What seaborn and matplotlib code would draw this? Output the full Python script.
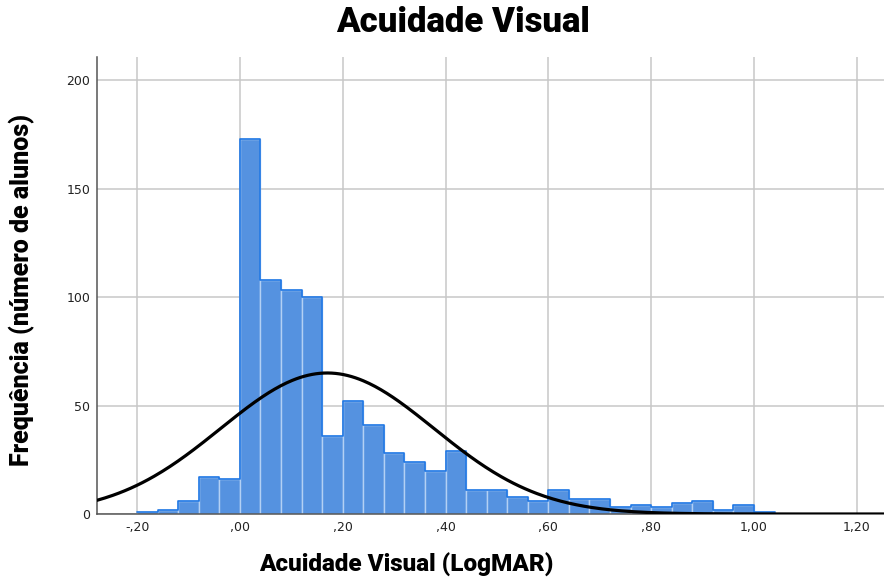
import numpy as np
import pandas as pd
import matplotlib
matplotlib.use("Agg")
import matplotlib.pyplot as plt
import seaborn as sns

# ---- data ----
bin_start = -0.20
bin_width = 0.04
counts = [1, 2, 6, 17, 16, 173, 108, 103, 100, 36, 52, 41, 28, 24, 20, 29,
          11, 11, 8, 6, 11, 7, 7, 3, 4, 3, 5, 6, 2, 4, 1]
fit_mean = 0.17
fit_sd = 0.2075
x_ticks = [-0.20, 0.00, 0.20, 0.40, 0.60, 0.80, 1.00, 1.20]
x_tick_labels = ["-,20", ",00", ",20", ",40", ",60", ",80", "1,00", "1,20"]
y_ticks = [0, 50, 100, 150, 200]
y_tick_labels = ["0", "50", "100", "150", "200"]
title = "Acuidade Visual"
x_label = "Acuidade Visual (LogMAR)"
y_label = "Frequência (número de alunos)"

edges = bin_start + bin_width * np.arange(len(counts) + 1)
centers = edges[:-1] + bin_width / 2
df = pd.DataFrame({"x": centers, "n": counts})

sns.set_style("white")
plt.rcParams["font.family"] = ["DejaVu Sans"]
plt.rcParams["text.color"] = "black"
head_font = ["Roboto", "DejaVu Sans"]

fig = plt.figure(figsize=(8.84, 5.80), dpi=100)
ax = fig.add_axes([97 / 884, 1 - 514 / 580, (884 - 97) / 884, (514 - 57) / 580])

brange = (float(edges[0]), float(edges[-1]))
sns.histplot(data=df, x="x", weights="n", binwidth=bin_width, binrange=brange, ax=ax,
             color="#5592e0", alpha=1.0, edgecolor="#b3d0f4", linewidth=1.0,
             zorder=2)
sns.histplot(data=df, x="x", weights="n", binwidth=bin_width, binrange=brange, ax=ax,
             element="step", fill=False, color="#1f77e4", linewidth=1.2, zorder=2.5)

xmin, xmax = -0.278, 1.253
N = float(np.sum(counts))
xs = np.linspace(xmin, xmax, 400)
ys = N * bin_width / (fit_sd * np.sqrt(2 * np.pi)) * np.exp(-0.5 * ((xs - fit_mean) / fit_sd) ** 2)
sns.lineplot(x=xs, y=ys, ax=ax, color="black", linewidth=2.3, zorder=3)

ax.set_xlim(xmin, xmax)
ax.set_ylim(0, 210.6)
ax.set_xticks(x_ticks)
ax.set_xticklabels(x_tick_labels, fontsize=9, color="#222222")
ax.set_yticks(y_ticks)
ax.set_yticklabels(y_tick_labels, fontsize=9, color="#222222")
ax.grid(True, color="#c8c8c8", linewidth=1.1, zorder=0)
ax.set_axisbelow(True)
for s in ["top", "right"]:
    ax.spines[s].set_visible(False)
for s in ["left", "bottom"]:
    ax.spines[s].set_color("#555555")
    ax.spines[s].set_linewidth(1.1)
ax.tick_params(axis="both", length=0, pad=5)
ax.set_xlabel("")
ax.set_ylabel("")

fig.text(463 / 884, 1 - 23 / 580, title, ha="center", va="center", color="black",
         fontsize=25, fontweight="black", family=head_font)
fig.text(406 / 884, 1 - 565 / 580, x_label, ha="center", va="center", color="black",
         fontsize=17.5, fontweight="black", family=head_font)
fig.text(22 / 884, 1 - 290 / 580, y_label, ha="center", va="center", rotation=90,
         color="black", fontsize=18, fontweight="black", family=head_font)

fig.savefig("out.png", dpi=100)
